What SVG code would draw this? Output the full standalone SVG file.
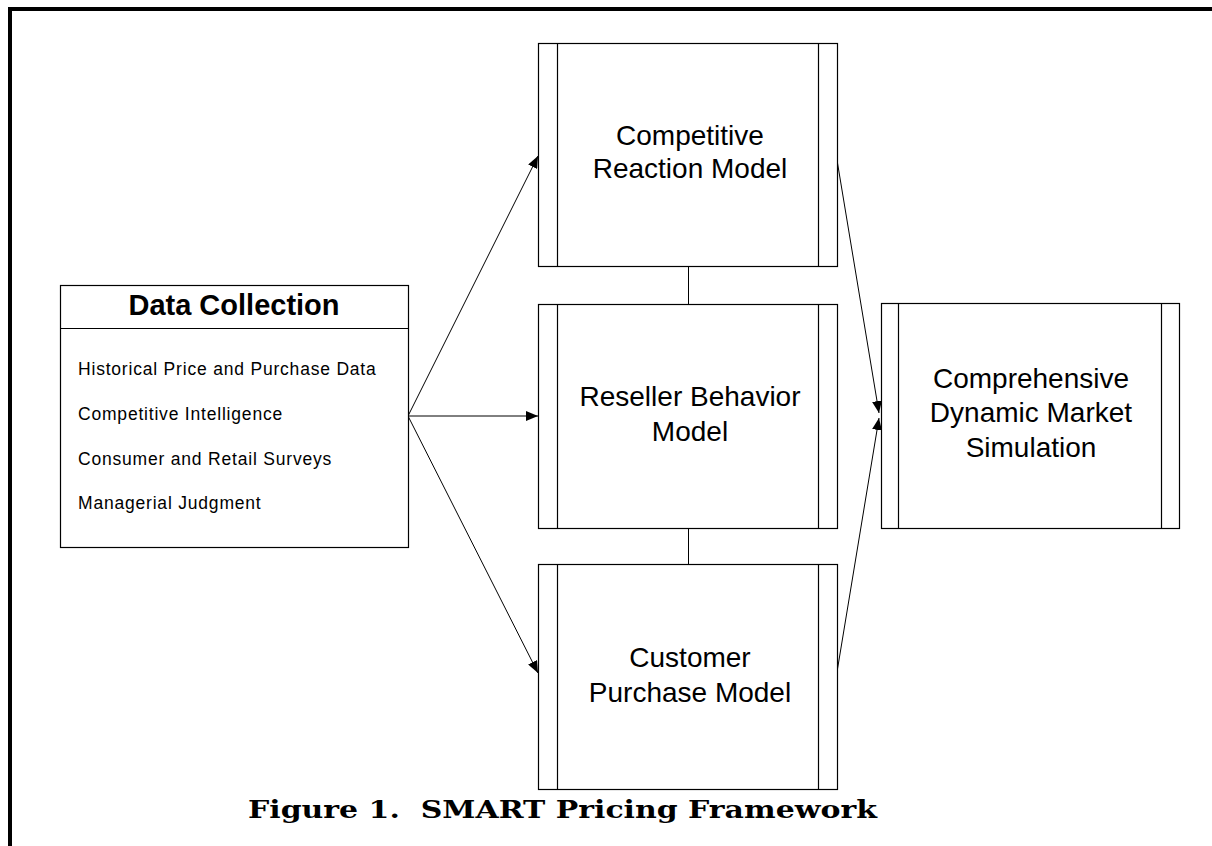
<svg xmlns="http://www.w3.org/2000/svg" width="1212" height="846" viewBox="0 0 1212 846">
<style>
.box{fill:#fff;stroke:#000;stroke-width:1.2}
.bar{fill:none;stroke:#000;stroke-width:1.2}
.conn{fill:none;stroke:#000;stroke-width:1}
.title{font-family:"Liberation Sans",Arial,sans-serif;font-size:28px;text-anchor:middle;fill:#000}
.head{font-family:"Liberation Sans",Arial,sans-serif;font-size:29px;font-weight:bold;text-anchor:middle;fill:#000}
.item{font-family:"Liberation Sans",Arial,sans-serif;font-size:17.5px;letter-spacing:0.8px;fill:#000}
.cap{font-family:"DejaVu Serif","Liberation Serif",serif;font-size:25px;font-weight:bold;fill:#000}
</style>
<defs>
<marker id="ah" viewBox="0 0 12 10" refX="12" refY="5" markerWidth="12" markerHeight="10" markerUnits="userSpaceOnUse" orient="auto">
<path d="M0,0 L12,5 L0,10 Z" fill="#000"/>
</marker>
</defs>
<rect width="1212" height="846" fill="#fff"/>
<path d="M10,846 V9 H1212" fill="none" stroke="#000" stroke-width="4"/>

<g id="connectors">
<line class="conn" x1="408" y1="416" x2="538" y2="156" marker-end="url(#ah)"/>
<line class="conn" x1="408" y1="416" x2="538" y2="416" marker-end="url(#ah)"/>
<line class="conn" x1="408" y1="416" x2="538" y2="673" marker-end="url(#ah)"/>
<line class="conn" x1="688.5" y1="266" x2="688.5" y2="304"/>
<line class="conn" x1="688.5" y1="528" x2="688.5" y2="564"/>
<line class="conn" x1="837" y1="160" x2="879" y2="413" marker-end="url(#ah)"/>
<line class="conn" x1="837" y1="672" x2="879" y2="418" marker-end="url(#ah)"/>
</g>

<g id="data-collection">
<rect class="box" x="60.5" y="285.5" width="348" height="262"/>
<line class="bar" x1="60.5" y1="328.5" x2="408.5" y2="328.5"/>
<text class="head" x="234" y="315">Data Collection</text>
<text class="item" x="78" y="375">Historical Price and Purchase Data</text>
<text class="item" x="78" y="420">Competitive Intelligence</text>
<text class="item" x="78" y="465">Consumer and Retail Surveys</text>
<text class="item" x="78" y="509">Managerial Judgment</text>
</g>

<g id="competitive-reaction">
<rect class="box" x="538.5" y="43.5" width="299" height="223"/>
<line class="bar" x1="557.5" y1="43.5" x2="557.5" y2="266.5"/>
<line class="bar" x1="818.5" y1="43.5" x2="818.5" y2="266.5"/>
<text class="title" x="690" y="145">Competitive</text>
<text class="title" x="690" y="178">Reaction Model</text>
</g>

<g id="reseller-behavior">
<rect class="box" x="538.5" y="304.5" width="299" height="224"/>
<line class="bar" x1="557.5" y1="304.5" x2="557.5" y2="528.5"/>
<line class="bar" x1="818.5" y1="304.5" x2="818.5" y2="528.5"/>
<text class="title" x="690" y="406">Reseller Behavior</text>
<text class="title" x="690" y="441">Model</text>
</g>

<g id="customer-purchase">
<rect class="box" x="538.5" y="564.5" width="299" height="225"/>
<line class="bar" x1="557.5" y1="564.5" x2="557.5" y2="789.5"/>
<line class="bar" x1="818.5" y1="564.5" x2="818.5" y2="789.5"/>
<text class="title" x="690" y="667">Customer</text>
<text class="title" x="690" y="702">Purchase Model</text>
</g>

<g id="market-simulation">
<rect class="box" x="881.5" y="303.5" width="298" height="225"/>
<line class="bar" x1="898.5" y1="303.5" x2="898.5" y2="528.5"/>
<line class="bar" x1="1161.5" y1="303.5" x2="1161.5" y2="528.5"/>
<text class="title" x="1031" y="388">Comprehensive</text>
<text class="title" x="1031" y="422">Dynamic Market</text>
<text class="title" x="1031" y="457">Simulation</text>
</g>

<text class="cap" x="248" y="818" textLength="629" lengthAdjust="spacingAndGlyphs" xml:space="preserve">Figure 1.  SMART Pricing Framework</text>
</svg>
